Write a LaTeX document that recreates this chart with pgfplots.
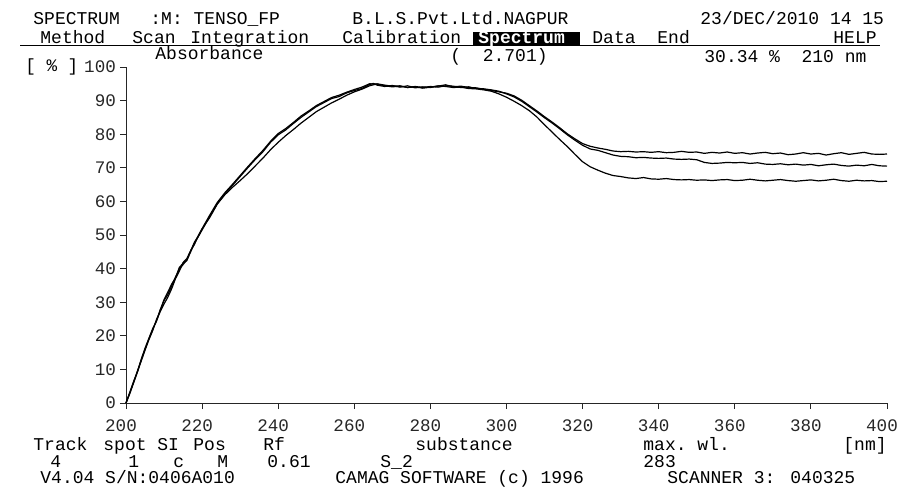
\documentclass[border=0pt]{standalone}
\usepackage{fontspec}
\setmonofont{Liberation Mono}
\usepackage{pgfplots}
\pgfplotsset{compat=1.18}
\newcommand{\pf}{\ttfamily\fontsize{9}{10}\selectfont}
\newcommand{\tf}{\ttfamily\fontsize{8.8}{10}\selectfont}
\begin{document}
\begin{tikzpicture}[x=1pt,y=1pt,font=\pf]
\useasboundingbox (0,0) rectangle (449.5,244.5);
\begin{axis}[at={(63pt,43pt)}, anchor=south west, scale only axis,
  width=380.5pt, height=168pt,
  xmin=200, xmax=400, ymin=0, ymax=100,
  axis lines=left, axis line style={-, line width=0.5pt, black!85},
  xtick={200,220,...,400}, ytick={0,10,...,100},
  tick align=outside, major tick length=3pt,
  tick style={black!85, line width=0.5pt},
  /pgf/number format/assume math mode=true,
  ticklabel style={font=\tf, black!85},
  xticklabel style={yshift=-2pt, xshift=-2.5pt},
  yticklabel style={xshift=1.5pt},
  clip=false]
\addplot[black, line width=0.6pt] coordinates {
(200,0)(201,3)(202,6.2)(203,9.5)(204,12.8)(205,16)(206,19)(207,21.8)(208,24.5)(209,27.8)(210,30.5)(211,32.3)(212,34.8)(213,37.5)(214,39.8)(215,41.2)(216,42.6)(217,45)(218,47.6)(219,49.5)(220,51.5)(222,55.6)(224,59.4)(226,62.3)(228,64.8)(230,67.4)(232,70)(234,72.5)(236,74.8)(238,77.6)(240,79.8)(242,81.3)(244,83.2)(246,85)(248,86.6)(250,88.2)(252,89.4)(254,90.6)(256,91.2)(258,92.3)(260,93)(262,93.6)(264,94.8)(265,95.1)(266,94.6)(268,94.2)(270,94.5)(272,94.0)(274,94.4)(276,93.8)(278,94.1)(280,93.9)(282,94.3)(284,94.7)(286,94.1)(288,94.3)(290,93.9)(292,93.8)(294,93.4)(296,93.0)(298,92.6)(300,92.2)(302,91.4)(304,90.1)(306,88.5)(308,86.9)(310,85.2)(312,83.6)(314,81.9)(316,80.1)(318,78.6)(320,77.2)(322,76.4)(324,75.9)(326,75.5)(328,75.0)(330,74.8)(332,74.9)(334,74.7)(336,74.8)(338,74.6)(340,74.8)(342,74.5)(344,74.6)(346,74.9)(348,74.6)(350,74.7)(352,74.3)(354,74.6)(356,74.4)(358,74.7)(360,74.3)(362,74.5)(364,74.1)(366,74.4)(368,74.6)(370,74.2)(372,74.4)(374,73.9)(376,74.1)(378,74.5)(380,74.1)(382,74.3)(384,73.8)(386,74.2)(388,74.5)(390,74.0)(392,74.3)(394,74.6)(396,74.1)(398,74.0)(400,74.1)
};
\addplot[black, line width=0.6pt] coordinates {
(200,0)(201,3.2)(202,6.4)(203,9.3)(204,13)(205,16.3)(206,19.2)(207,22.1)(208,24.3)(209,27.5)(210,30.8)(211,33)(212,35.4)(213,37.2)(214,40.3)(215,41.6)(216,42.4)(217,45.3)(218,47.9)(219,49.7)(220,51.9)(222,55.9)(224,59.7)(226,62.6)(228,65.1)(230,67.7)(232,70.3)(234,72.8)(236,75.2)(238,77.9)(240,80.2)(242,81.7)(244,83.5)(246,85.4)(248,86.9)(250,88.5)(252,89.7)(254,90.9)(256,91.6)(258,92.5)(260,93.3)(262,94.0)(264,95.0)(266,94.9)(268,94.4)(270,94.1)(272,94.3)(274,93.9)(276,94.2)(278,93.9)(280,94.2)(282,94.0)(284,94.4)(286,94.3)(288,93.9)(290,94.1)(292,93.6)(294,93.5)(296,93.2)(298,92.8)(300,92.0)(302,91.1)(304,89.8)(306,88.2)(308,86.6)(310,84.9)(312,83.3)(314,81.6)(316,79.8)(318,78.2)(320,76.7)(322,75.6)(324,75.2)(326,74.5)(328,73.8)(330,73.4)(332,73.3)(334,73.0)(336,73.1)(338,72.9)(340,72.8)(342,72.9)(344,72.6)(346,72.5)(348,72.6)(350,72.4)(352,71.6)(354,71.3)(356,71.4)(358,71.6)(360,71.5)(362,71.6)(364,71.3)(366,71.5)(368,71.1)(370,71.0)(372,71.2)(374,70.9)(376,71.1)(378,70.8)(380,71.0)(382,70.6)(384,70.9)(386,71.1)(388,70.7)(390,70.5)(392,70.8)(394,70.6)(396,71.0)(398,70.6)(400,70.5)
};
\addplot[black, line width=0.6pt] coordinates {
(200,0)(201,2.8)(202,6)(203,9.2)(204,12.5)(205,15.7)(206,18.8)(207,21.5)(208,24.8)(209,27.2)(210,29.5)(211,31.5)(212,34)(213,37)(214,39.2)(215,41.8)(216,43)(217,45.4)(218,47.2)(219,49.8)(220,51.8)(222,55.2)(224,59.2)(226,62.0)(228,64.2)(230,66.2)(232,68.3)(234,70.6)(236,72.9)(238,75.4)(240,77.6)(242,79.6)(244,81.4)(246,83.3)(248,85.0)(250,86.7)(252,88.0)(254,89.3)(256,90.4)(258,91.6)(260,92.6)(262,93.4)(264,94.4)(266,95.0)(268,94.6)(270,94.3)(272,94.4)(274,93.9)(276,94.1)(278,93.7)(280,94.0)(282,94.4)(284,94.2)(286,93.9)(288,94.0)(290,93.6)(292,93.5)(294,93.2)(296,92.8)(298,92.0)(300,91.0)(302,89.8)(304,88.5)(306,87.0)(308,85.1)(310,82.8)(312,80.6)(314,78.4)(316,76.3)(318,74.0)(320,71.8)(322,70.3)(324,69.3)(326,68.4)(328,67.7)(330,67.4)(332,67.0)(334,66.8)(336,67.1)(338,66.7)(340,66.6)(342,66.8)(344,66.5)(346,66.4)(348,66.5)(350,66.3)(352,66.4)(354,66.2)(356,66.4)(358,66.5)(360,66.2)(362,66.3)(364,66.6)(366,66.3)(368,66.1)(370,66.3)(372,66.5)(374,66.2)(376,66.0)(378,66.2)(380,66.4)(382,66.1)(384,66.3)(386,66.6)(388,66.2)(390,66.0)(392,66.3)(394,66.1)(396,66.2)(398,65.9)(400,66.0)
};
\end{axis}
% header line 1
\node[anchor=base west, inner sep=0] at (16.5,232.5) {SPECTRUM};
\node[anchor=base west, inner sep=0] at (75,232.5) {:M: TENSO\_FP};
\node[anchor=base west, inner sep=0] at (176,232.5) {B.L.S.Pvt.Ltd.NAGPUR};
\node[anchor=base west, inner sep=0] at (350,232.5) {23/DEC/2010 14 15};
% header line 2 (menu)
\draw[black, line width=0.6pt] (10,221.8) -- (440,221.8);
\node[anchor=base west, inner sep=0] at (20,223) {Method};
\node[anchor=base west, inner sep=0] at (66,223) {Scan};
\node[anchor=base west, inner sep=0] at (95,223) {Integration};
\node[anchor=base west, inner sep=0] at (171,223) {Calibration};
\fill[black] (236.5,221.8) rectangle (290,228.5);
\node[anchor=base west, inner sep=0, text=white] at (239,223) {\bfseries Spectrum};
\node[anchor=base west, inner sep=0] at (296,223) {Data};
\node[anchor=base west, inner sep=0] at (328.5,223) {End};
\node[anchor=base west, inner sep=0] at (416.5,223) {HELP};
% header line 3
\node[anchor=base west, inner sep=0, font=\tf] at (12.5,208.8) {[ \% ]};
\node[anchor=base west, inner sep=0] at (77.5,214.8) {Absorbance};
\node[anchor=base west, inner sep=0] at (225,214) {(\ \ 2.701)};
\node[anchor=base west, inner sep=0] at (352,213.5) {30.34 \%\ \ 210 nm};
% footer
\node[anchor=base west, inner sep=0] at (16.5,19.5) {Track};
\node[anchor=base west, inner sep=0] at (51.5,19.5) {spot SI};
\node[anchor=base west, inner sep=0] at (96.5,19.5) {Pos};
\node[anchor=base west, inner sep=0] at (131.5,19.5) {Rf};
\node[anchor=base west, inner sep=0] at (207.5,19.5) {substance};
\node[anchor=base west, inner sep=0] at (321.5,19.5) {max. wl.};
\node[anchor=base west, inner sep=0] at (421.5,19.5) {[nm]};
\node[anchor=base west, inner sep=0] at (25,11) {4};
\node[anchor=base west, inner sep=0] at (64,11) {1};
\node[anchor=base west, inner sep=0] at (86.5,11) {c};
\node[anchor=base west, inner sep=0] at (108.5,11) {M};
\node[anchor=base west, inner sep=0] at (133.5,11) {0.61};
\node[anchor=base west, inner sep=0] at (190,11) {S\_2};
\node[anchor=base west, inner sep=0] at (321.5,11) {283};
\node[anchor=base west, inner sep=0] at (20,3) {V4.04 S/N:0406A010};
\node[anchor=base west, inner sep=0] at (167.5,3) {CAMAG SOFTWARE (c) 1996};
\node[anchor=base west, inner sep=0] at (333.5,3) {SCANNER 3:};
\node[anchor=base west, inner sep=0] at (395,3) {040325};
\end{tikzpicture}
\end{document}
